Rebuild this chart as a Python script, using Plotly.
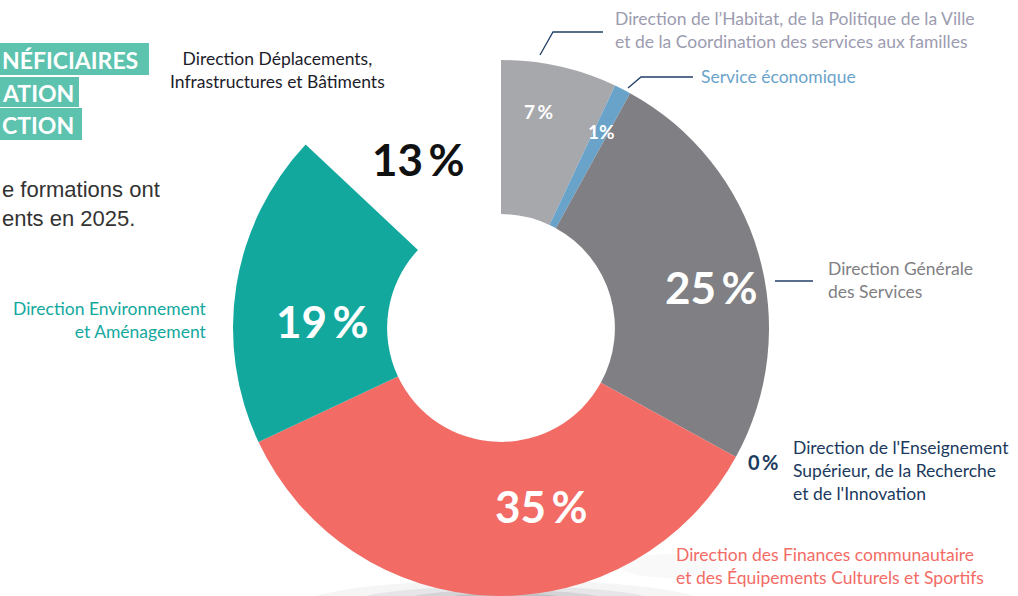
import plotly.graph_objects as go

# ---- data ----
directions = [
    "Direction de l’Habitat, de la Politique de la Ville<br>et de la Coordination des services aux familles",
    "Service économique",
    "Direction Générale<br>des Services",
    "Direction de l'Enseignement<br>Supérieur, de la Recherche<br>et de l'Innovation",
    "Direction des Finances communautaire<br>et des Équipements Culturels et Sportifs",
    "Direction Environnement<br>et Aménagement",
    "Direction Déplacements,<br>Infrastructures et Bâtiments",
]
shares = [7, 1, 25, 0, 35, 19, 13]
pct_sep = ["\u2009", "", "\u2009", "\u2009", "\u2009", "\u2009", "\u2009"]
slice_colors = ["#A7A8AC", "#6AA3CA", "#808084", "#1B3A5E", "#F26B65", "#13A89E", "rgba(0,0,0,0)"]
label_colors = ["#9C9CB0", "#6AA3CA", "#808084", "#1B3A5E", "#F26B65", "#13A89E", "#1D1D2B"]

heading_parts = ["NÉFICIAIRES", "ATION", "CTION"]
paragraph = "e formations ont<br>ents en 2025."

W, H = 1018, 596
def px(x): return x / W
def py(y): return 1 - y / H

fig = go.Figure()
fig.add_trace(go.Pie(
    values=shares,
    labels=[d.replace("<br>", " ") for d in directions],
    sort=False, direction="clockwise", rotation=0,
    hole=0.425,
    marker=dict(colors=slice_colors, line=dict(width=0)),
    textinfo="none", hoverinfo="label+percent", showlegend=False,
    domain=dict(x=[px(501 - 268), px(501 + 268)], y=[0, py(60)]),
))

# percentage labels (center x, center y, size, color)
pct_style = [
    (538, 111, 19, "white"),
    (601, 131, 19, "white"),
    (711, 287, 44, "white"),
    (763, 462, 20, "#1B3A5E"),
    (541, 506, 44, "white"),
    (322, 321, 44, "white"),
    (418, 159, 44, "#111111"),
]
ann = []
for v, sep, (x, y, s, c) in zip(shares, pct_sep, pct_style):
    ann.append(dict(x=px(x), y=py(y), xref="paper", yref="paper", text=f"<b>{v}{sep}%</b>",
                    showarrow=False, font=dict(family="Lato", size=s, color=c),
                    xanchor="center", yanchor="middle"))

# direction labels (x, center y, anchor)
name_pos = [
    (613, 30, "left"),
    (699, 77, "left"),
    (826, 280, "left"),
    (791, 470, "left"),
    (674, 566, "left"),
    (209, 320, "right"),
    (277, 70, "center"),
]
for d, c, (x, y, a) in zip(directions, label_colors, name_pos):
    ann.append(dict(x=px(x), y=py(y), xref="paper", yref="paper", text=d, showarrow=False,
                    align=a, xanchor=a, yanchor="middle",
                    font=dict(family="Lato", size=17.5, color=c)))

# left partial heading boxes and paragraph
head_geom = [(43, 75, 149), (77, 107, 79), (108, 140, 82)]
shapes = []
for t, (y0, y1, x1) in zip(heading_parts, head_geom):
    shapes.append(dict(type="rect", xref="paper", yref="paper", x0=0, x1=px(x1), y0=py(y1), y1=py(y0),
                       fillcolor="#5DC3AF", line=dict(width=0), layer="below"))
    ann.append(dict(x=0, y=py((y0 + y1) / 2 + 1), xref="paper", yref="paper", text=f"<b>{t}</b>",
                    showarrow=False, xanchor="left", yanchor="middle",
                    font=dict(family="Lato", size=23, color="white")))
ann.append(dict(x=0, y=py(204), xref="paper", yref="paper",
                text=paragraph, showarrow=False, align="left",
                xanchor="left", yanchor="middle",
                font=dict(family="Liberation Sans", size=22, color="#333333")))

# leader lines
lc = "#1F3F66"
for pts in [[(540, 55), (553, 32), (603, 32)], [(628, 88), (641, 77), (693, 77)], [(775, 281), (813, 281)]]:
    path = " ".join(("M" if i == 0 else "L") + f" {px(x):.5f} {py(y):.5f}" for i, (x, y) in enumerate(pts))
    shapes.append(dict(type="path", xref="paper", yref="paper", path=path,
                       line=dict(color=lc, width=1.3)))

# soft shadow under the ring
for (cx, cy, rx, ry, op) in [(505, 604, 200, 24, 0.06), (505, 602, 150, 16, 0.09), (505, 600, 100, 10, 0.13),
                             (505, 599, 60, 6, 0.15), (670, 566, 50, 12, 0.04)]:
    shapes.append(dict(type="circle", xref="paper", yref="paper",
                       x0=px(cx - rx), x1=px(cx + rx), y0=py(cy + ry), y1=py(cy - ry),
                       fillcolor=f"rgba(90,90,95,{op})", line=dict(width=0), layer="below"))

fig.update_layout(width=W, height=H, margin=dict(l=0, r=0, t=0, b=0),
                  paper_bgcolor="white", plot_bgcolor="white",
                  annotations=ann, shapes=shapes)
fig.write_html("out.html", config={"displayModeBar": False},
               post_script="document.body.style.margin='0';document.body.style.overflow='hidden';")
